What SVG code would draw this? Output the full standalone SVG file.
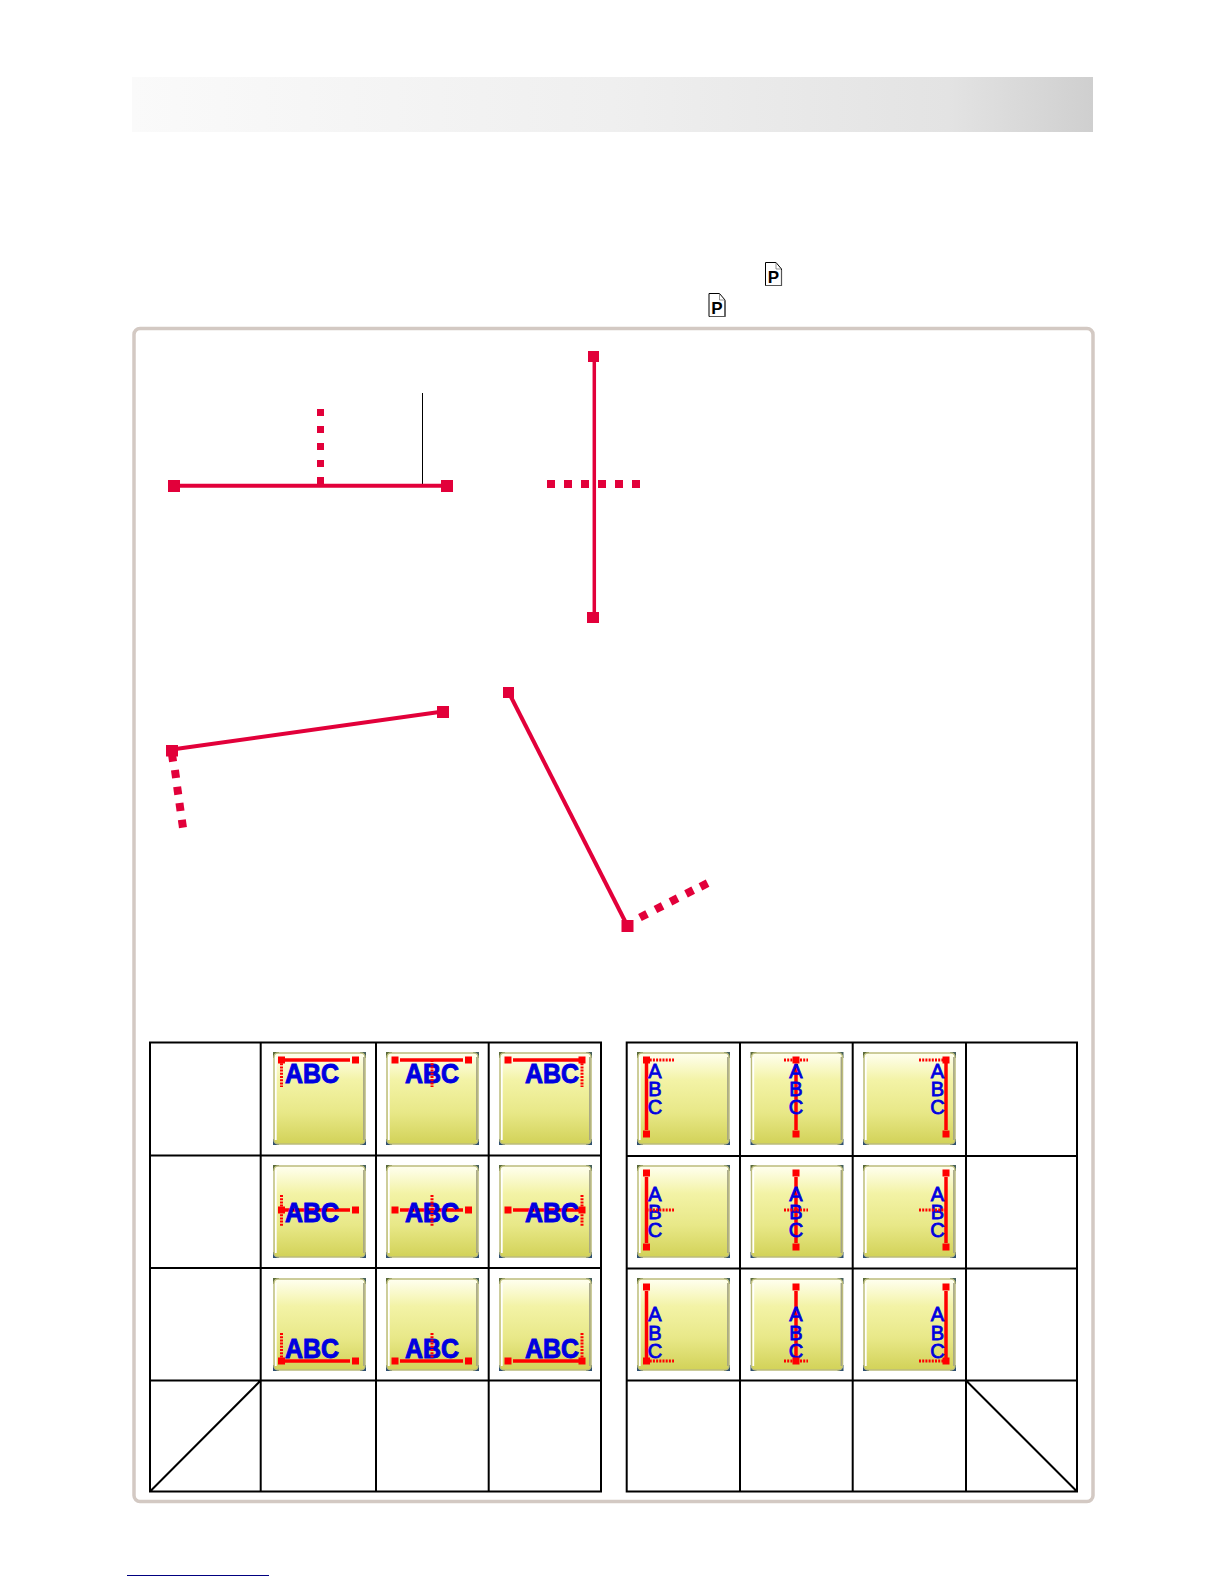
<svg xmlns="http://www.w3.org/2000/svg" width="1224" height="1584" viewBox="0 0 1224 1584">
<style>
.c{fill:#e2003a}
.cl{stroke:#e2003a;fill:none}
.g{stroke:#000;stroke-width:2;fill:none}
.s{stroke:#f00;stroke-width:3.500;fill:none}
.d{stroke:#f00;stroke-width:3;stroke-dasharray:2 1.200;fill:none}
.h{fill:#f00}
.t{font-family:"Liberation Sans",Arial,sans-serif;font-weight:bold;font-size:27px;fill:#0000e0;stroke:#0000e0;stroke-width:1}
.v{font-family:"Liberation Sans",Arial,sans-serif;font-size:20px;fill:#0000e0;stroke:#0000e0;stroke-width:.8;text-anchor:middle}
.p{font-family:"Liberation Sans",Arial,sans-serif;font-weight:bold;font-size:17px;fill:#000;text-anchor:middle}
</style>
<defs>
<linearGradient id="hdr" x1="0" x2="1" y1="0" y2="0"><stop offset="0" stop-color="#fafafa"/><stop offset=".5" stop-color="#efefef"/><stop offset=".85" stop-color="#e3e3e3"/><stop offset="1" stop-color="#cfcfcf"/></linearGradient>
<linearGradient id="bt" x1="0" x2="0" y1="0" y2="1"><stop offset="0" stop-color="#fffff0"/><stop offset=".3" stop-color="#f3f3a6"/><stop offset=".65" stop-color="#e8e888"/><stop offset="1" stop-color="#d2d258"/></linearGradient>
<g id="btn">
<rect x="0" y="0" width="6" height="6" fill="#5a6a3a"/><rect x="87" y="0" width="6" height="6" fill="#46605a"/>
<rect x="0" y="87" width="6" height="6" fill="#2f5070"/><rect x="87" y="87" width="6" height="6" fill="#2f5070"/>
<rect x="1" y="1" width="91" height="91" rx="4" fill="url(#bt)" stroke="#bcbc7c" stroke-width="1.500"/>
<path d="M2.800 5V88" stroke="#fff" stroke-width="1.800"/>
<path d="M90.800 5V88" stroke="#a4a484" stroke-width="1.400"/>
</g>
<g id="hs"><rect x="-3.500" y="-3.500" width="7" height="7" class="h"/></g>
<g id="pic"><path d="M.5 .5H11L16.500 7V23.500H.5Z" fill="#fff" stroke="#000" stroke-width="1"/><path d="M11 .5V7H16.500" fill="none" stroke="#666" stroke-width=".7"/><path d="M1 23.500H16.500V8" fill="none" stroke="#555" stroke-width="1.200"/><text x="8.500" y="21" class="p">P</text></g>
</defs>

<rect id="header" x="132" y="77" width="961" height="55" fill="url(#hdr)"/>
<use id="icon-p1" href="#pic" x="765" y="262"/>
<use id="icon-p2" href="#pic" x="708.500" y="293"/>
<rect id="frame" x="134" y="328.500" width="959" height="1173" rx="6" fill="#fff" stroke="#d3c9c3" stroke-width="3.500"/>

<g id="connectors">
<path d="M422.500 393V486" stroke="#000" stroke-width="1" fill="none"/>
<path d="M174 485.700H447" class="cl" stroke-width="4"/>
<path d="M594.300 356V618" class="cl" stroke-width="3.500"/>
<path d="M172 749.500L443 711.500" class="cl" stroke-width="4"/>
<path d="M509 693L627 925" class="cl" stroke-width="4"/>
</g>

<g id="node-h">
<rect x="168" y="480" width="12" height="12" class="c"/><rect x="441" y="480" width="12" height="12" class="c"/>
<rect x="317" y="409" width="7" height="7" class="c"/><rect x="317" y="426" width="7" height="7" class="c"/><rect x="317" y="443" width="7" height="7" class="c"/><rect x="317" y="460" width="7" height="7" class="c"/><rect x="317" y="477" width="7" height="7" class="c"/>
</g>
<g id="node-v">
<rect x="588" y="351" width="11" height="11" class="c"/><rect x="587" y="612" width="12" height="11" class="c"/>
<rect x="547" y="480" width="8" height="8" class="c"/><rect x="564" y="480" width="8" height="8" class="c"/><rect x="581" y="480" width="8" height="8" class="c"/><rect x="598" y="480" width="8" height="8" class="c"/><rect x="615" y="480" width="8" height="8" class="c"/><rect x="632" y="480" width="8" height="8" class="c"/>
</g>
<g id="node-r1">
<rect x="166" y="745" width="12" height="11.500" class="c"/><rect x="437" y="706" width="12" height="12" class="c"/>
<rect x="-4" y="-4" width="8" height="8" class="c" transform="translate(172.500 757.700) rotate(-8)"/><rect x="-4" y="-4" width="8" height="8" class="c" transform="translate(175.500 774) rotate(-8)"/><rect x="-4" y="-4" width="8" height="8" class="c" transform="translate(177.700 790.700) rotate(-8)"/><rect x="-4" y="-4" width="8" height="8" class="c" transform="translate(180 807) rotate(-8)"/><rect x="-4" y="-4" width="8" height="8" class="c" transform="translate(182.400 823.700) rotate(-8)"/>
</g>
<g id="node-r2">
<rect x="503" y="687" width="11" height="11" class="c"/><rect x="621.500" y="920" width="12" height="12" class="c"/>
<rect x="-4" y="-4" width="8" height="8" class="c" transform="translate(643.500 915.700) rotate(-27)"/><rect x="-4" y="-4" width="8" height="8" class="c" transform="translate(659 907.700) rotate(-27)"/><rect x="-4" y="-4" width="8" height="8" class="c" transform="translate(674 900) rotate(-27)"/><rect x="-4" y="-4" width="8" height="8" class="c" transform="translate(689.600 892) rotate(-27)"/><rect x="-4" y="-4" width="8" height="8" class="c" transform="translate(704 885) rotate(-27)"/>
</g>

<g id="table-left">
<path class="g" d="M150 1042.500H601V1491.500H150ZM150 1155.500H601M150 1268H601M150 1380.500H601M260.700 1042.500V1491.500M376 1042.500V1491.500M488.700 1042.500V1491.500M150 1491.500L260.700 1380.500"/>
</g>
<g id="table-right">
<path class="g" d="M626.700 1042.500H1077V1491.500H626.700ZM626.700 1156H1077M626.700 1268.500H1077M626.700 1380.500H1077M740 1042.500V1491.500M852.700 1042.500V1491.500M966 1042.500V1491.500M966 1380.500L1077 1491.500"/>
</g>

<g id="btn-h11" transform="translate(273 1052)"><use href="#btn"/><path class="s" d="M8.500 8H77"/><text class="t" x="12" y="30.500" textLength="54" lengthAdjust="spacingAndGlyphs">ABC</text><path class="d" d="M8.500 8V35"/><use href="#hs" x="8.500" y="8"/><use href="#hs" x="82.500" y="8"/></g>
<g id="btn-h12" transform="translate(386 1052)"><use href="#btn"/><path class="s" d="M14 8H77"/><text class="t" x="19" y="30.500" textLength="54" lengthAdjust="spacingAndGlyphs">ABC</text><path class="d" d="M46 8V35"/><use href="#hs" x="9" y="8"/><use href="#hs" x="82.500" y="8"/></g>
<g id="btn-h13" transform="translate(499 1052)"><use href="#btn"/><path class="s" d="M14 8H83"/><text class="t" x="26" y="30.500" textLength="54" lengthAdjust="spacingAndGlyphs">ABC</text><path class="d" d="M83 8V35"/><use href="#hs" x="9" y="8"/><use href="#hs" x="83" y="8"/></g>
<g id="btn-h21" transform="translate(273 1165)"><use href="#btn"/><path class="s" d="M8.500 45H77"/><text class="t" x="12" y="56.500" textLength="54" lengthAdjust="spacingAndGlyphs">ABC</text><path class="d" d="M8.500 30V62"/><use href="#hs" x="8.500" y="45"/><use href="#hs" x="82.500" y="45"/></g>
<g id="btn-h22" transform="translate(386 1165)"><use href="#btn"/><path class="s" d="M14 45H77"/><text class="t" x="19" y="56.500" textLength="54" lengthAdjust="spacingAndGlyphs">ABC</text><path class="d" d="M46 30V62"/><use href="#hs" x="9" y="45"/><use href="#hs" x="82.500" y="45"/></g>
<g id="btn-h23" transform="translate(499 1165)"><use href="#btn"/><path class="s" d="M14 45H83"/><text class="t" x="26" y="56.500" textLength="54" lengthAdjust="spacingAndGlyphs">ABC</text><path class="d" d="M83 30V62"/><use href="#hs" x="9" y="45"/><use href="#hs" x="83" y="45"/></g>
<g id="btn-h31" transform="translate(273 1278)"><use href="#btn"/><path class="s" d="M8.500 83H77"/><text class="t" x="12" y="79.500" textLength="54" lengthAdjust="spacingAndGlyphs">ABC</text><path class="d" d="M8.500 55V83"/><use href="#hs" x="8.500" y="83"/><use href="#hs" x="82.500" y="83"/></g>
<g id="btn-h32" transform="translate(386 1278)"><use href="#btn"/><path class="s" d="M14 83H77"/><text class="t" x="19" y="79.500" textLength="54" lengthAdjust="spacingAndGlyphs">ABC</text><path class="d" d="M46 55V80"/><use href="#hs" x="9" y="83"/><use href="#hs" x="82.500" y="83"/></g>
<g id="btn-h33" transform="translate(499 1278)"><use href="#btn"/><path class="s" d="M14 83H83"/><text class="t" x="26" y="79.500" textLength="54" lengthAdjust="spacingAndGlyphs">ABC</text><path class="d" d="M83 55V83"/><use href="#hs" x="9" y="83"/><use href="#hs" x="83" y="83"/></g>

<g id="btn-v11" transform="translate(637 1052)"><use href="#btn"/><path class="s" d="M9.500 8V78"/><text class="v" x="18" y="26">A</text><text class="v" x="18" y="44">B</text><text class="v" x="18" y="62">C</text><path class="d" d="M9.500 8H37"/><use href="#hs" x="9.500" y="8"/><use href="#hs" x="9.500" y="82"/></g>
<g id="btn-v12" transform="translate(750.500 1052)"><use href="#btn"/><path class="s" d="M45.500 12V78"/><text class="v" x="45.500" y="26">A</text><text class="v" x="45.500" y="44">B</text><text class="v" x="45.500" y="62">C</text><path class="d" d="M33.500 8H57.500"/><use href="#hs" x="45.500" y="8"/><use href="#hs" x="45.500" y="82"/></g>
<g id="btn-v13" transform="translate(863 1052)"><use href="#btn"/><path class="s" d="M83 8V78"/><text class="v" x="74.500" y="26">A</text><text class="v" x="74.500" y="44">B</text><text class="v" x="74.500" y="62">C</text><path class="d" d="M56 8H83"/><use href="#hs" x="83" y="8"/><use href="#hs" x="83" y="82"/></g>
<g id="btn-v21" transform="translate(637 1165)"><use href="#btn"/><path class="s" d="M9.500 12V78"/><text class="v" x="18" y="36">A</text><text class="v" x="18" y="54">B</text><text class="v" x="18" y="72">C</text><path class="d" d="M9.500 45H37"/><use href="#hs" x="9.500" y="8"/><use href="#hs" x="9.500" y="82"/></g>
<g id="btn-v22" transform="translate(750.500 1165)"><use href="#btn"/><path class="s" d="M45.500 12V78"/><text class="v" x="45.500" y="36">A</text><text class="v" x="45.500" y="54">B</text><text class="v" x="45.500" y="72">C</text><path class="d" d="M33.500 45H57.500"/><use href="#hs" x="45.500" y="8"/><use href="#hs" x="45.500" y="82"/></g>
<g id="btn-v23" transform="translate(863 1165)"><use href="#btn"/><path class="s" d="M83 12V78"/><text class="v" x="74.500" y="36">A</text><text class="v" x="74.500" y="54">B</text><text class="v" x="74.500" y="72">C</text><path class="d" d="M56 45H83"/><use href="#hs" x="83" y="8"/><use href="#hs" x="83" y="82"/></g>
<g id="btn-v31" transform="translate(637 1278)"><use href="#btn"/><path class="s" d="M9.500 13V83"/><text class="v" x="18" y="43">A</text><text class="v" x="18" y="62">B</text><text class="v" x="18" y="80">C</text><path class="d" d="M9.500 83H37"/><use href="#hs" x="9.500" y="9"/><use href="#hs" x="9.500" y="83"/></g>
<g id="btn-v32" transform="translate(750.500 1278)"><use href="#btn"/><path class="s" d="M45.500 13V83"/><text class="v" x="45.500" y="43">A</text><text class="v" x="45.500" y="62">B</text><text class="v" x="45.500" y="80">C</text><path class="d" d="M33.500 83H57.500"/><use href="#hs" x="45.500" y="9"/><use href="#hs" x="45.500" y="83"/></g>
<g id="btn-v33" transform="translate(863 1278)"><use href="#btn"/><path class="s" d="M83 13V83"/><text class="v" x="74.500" y="43">A</text><text class="v" x="74.500" y="62">B</text><text class="v" x="74.500" y="80">C</text><path class="d" d="M56 83H83"/><use href="#hs" x="83" y="9"/><use href="#hs" x="83" y="83"/></g>

<path id="footer-rule" d="M127 1575.500H269" stroke="#000080" stroke-width="1"/>
</svg>
